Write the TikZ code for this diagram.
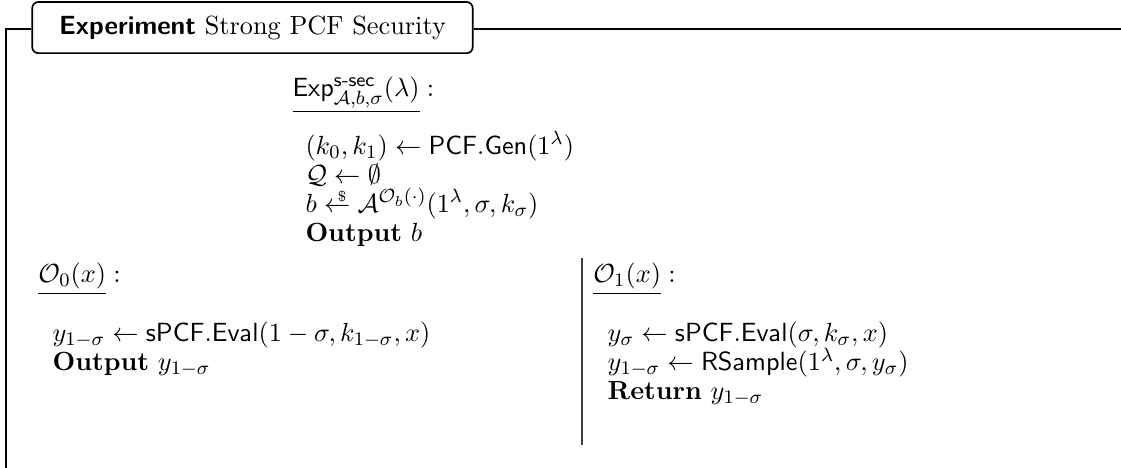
\documentclass[tikz,border=0pt]{standalone}
\usepackage{amsmath}
\usepackage{amssymb}
\usetikzlibrary{positioning}

\tikzset{
  codeline/.style={anchor=base west, inner sep=0pt},
  titlebox/.style={draw, line width=0.7pt, rounded corners=2.5pt, minimum width=183.5pt, minimum height=21.3pt},
  frameline/.style={line width=0.7pt},
  sepline/.style={line width=0.45pt, black!75}
}
\newcommand{\algo}[1]{\mathsf{#1}}
\newcommand{\sampleto}{\mathrel{\mathrel{\rlap{\kern5.6pt\raisebox{4.4pt}{$\scriptscriptstyle\$$}}}\leftarrow}}

\begin{document}
\begin{tikzpicture}[font=\fontsize{10.95}{13.6}\selectfont]
\useasboundingbox (0,0) rectangle (467.1pt,-195pt);

% frame and title
\node[titlebox] (title) at (105.2pt,-11.5pt) {\textsf{\textbf{Experiment}} Strong PCF Security};
\coordinate (fcorner) at (2.5pt,-12.2pt);
\coordinate (fbottom) at (2.5pt,-195pt);
\coordinate (fright) at (467.1pt,-12.2pt);
\draw[frameline] (fcorner -| title.west) -- (fcorner) -- (fbottom);
\draw[frameline] (fright -| title.east) -- (fright);

% main experiment
\node[codeline] (expname) at (121.7pt,-40.4pt) {$\underline{\algo{Exp}^{\textsf{s-sec}}_{\mathcal{A},b,\sigma}(\lambda)}:$};
\node[codeline] (gen) at (127.1pt,-64.2pt) {$(k_0,k_1) \leftarrow \algo{PCF.Gen}(1^\lambda)$};
\node[codeline] (qinit) at (127.1pt,-76.3pt) {$\mathcal{Q} \leftarrow \emptyset$};
\node[codeline] (adv) at (127.1pt,-88.4pt) {$b \sampleto \mathcal{A}^{\mathcal{O}_b(\cdot)}(1^\lambda,\sigma,k_\sigma)$};
\node[codeline] (outb) at (127.1pt,-100.5pt) {\textbf{Output} $b$};

% oracle 0
\node[codeline] (orazero) at (15.8pt,-117.9pt) {$\underline{\mathcal{O}_0(x)}:$};
\node[codeline] (evalzero) at (21.7pt,-142.3pt) {$y_{1-\sigma} \leftarrow \algo{sPCF.Eval}(1-\sigma,k_{1-\sigma},x)$};
\node[codeline] (outzero) at (21.7pt,-154.4pt) {\textbf{Output} $y_{1-\sigma}$};

% oracle 1
\coordinate (septop) at (242.5pt,-107.5pt);
\coordinate (sepbot) at (242.5pt,-185.4pt);
\draw[sepline] (septop) -- (sepbot);
\node[codeline] (oraone) at (247pt,-117.9pt) {$\underline{\mathcal{O}_1(x)}:$};
\node[codeline] (evalone) at (253pt,-142.3pt) {$y_\sigma \leftarrow \algo{sPCF.Eval}(\sigma,k_\sigma,x)$};
\node[codeline] (rsample) at (253pt,-154.4pt) {$y_{1-\sigma} \leftarrow \algo{RSample}(1^\lambda,\sigma,y_\sigma)$};
\node[codeline] (ret) at (253pt,-166.5pt) {\textbf{Return} $y_{1-\sigma}$};
\end{tikzpicture}
\end{document}
